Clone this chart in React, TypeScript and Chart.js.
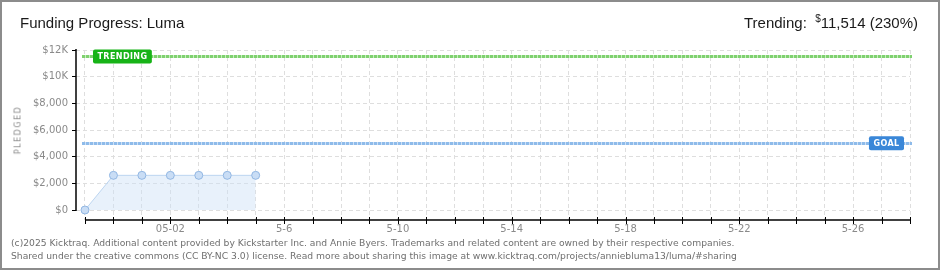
import React, { useEffect, useRef } from "react";
import { Chart, registerables } from "chart.js";

Chart.register(...registerables);

// ---- data ----
const dates: string[] = [
  "04-29", "04-30", "05-01", "05-02", "05-03", "05-04", "05-05", "05-06",
  "05-07", "05-08", "05-09", "05-10", "05-11", "05-12", "05-13", "05-14",
  "05-15", "05-16", "05-17", "05-18", "05-19", "05-20", "05-21", "05-22",
  "05-23", "05-24", "05-25", "05-26", "05-27", "05-28",
];
const xTickLabels: string[] = [
  "", "", "", "05-02", "", "", "", "5-6",
  "", "", "", "5-10", "", "", "", "5-14",
  "", "", "", "5-18", "", "", "", "5-22",
  "", "", "", "5-26", "", "",
];
const pledged: number[] = [0, 2600, 2600, 2600, 2600, 2600, 2600];
const yTickValues: number[] = [0, 1000, 2000, 3000, 4000, 5000, 6000, 7000, 8000, 9000, 10000, 11000, 12000];
const yTickLabels: Record<number, string> = {
  0: "$0", 2000: "$2,000", 4000: "$4,000", 6000: "$6,000", 8000: "$8,000", 10000: "$10K", 12000: "$12K",
};
const trendingValue = 11514;
const goalValue = 5000;
const trendingLabel = "TRENDING";
const goalLabel = "GOAL";

const FONT = "'DejaVu Sans', sans-serif";

const overlayPlugin = {
  id: "kicktraqOverlay",
  beforeDatasetsDraw(chart: any) {
    const { ctx, chartArea, scales } = chart;
    const x = scales.x;
    const y = scales.y;
    ctx.save();
    ctx.strokeStyle = "#000";
    ctx.lineWidth = 1.5;
    ctx.beginPath();
    ctx.moveTo(chartArea.left, y.getPixelForValue(12000) - 1);
    ctx.lineTo(chartArea.left, y.getPixelForValue(0) + 1);
    ctx.stroke();
    const axY = chartArea.bottom;
    ctx.beginPath();
    ctx.moveTo(x.getPixelForValue(0), axY);
    ctx.lineTo(x.getPixelForValue(dates.length - 1), axY);
    ctx.stroke();
    ctx.lineWidth = 1;
    for (let i = 0; i < dates.length; i++) {
      const px = Math.round(x.getPixelForValue(i)) + 0.5;
      ctx.beginPath();
      ctx.moveTo(px, axY - 3);
      ctx.lineTo(px, axY + 4);
      ctx.stroke();
    }
    const drawRef = (val: number, light: string, dark: string) => {
      const py = Math.round(y.getPixelForValue(val)) + 0.5;
      const x0 = x.getPixelForValue(0) - 3;
      const x1 = chartArea.right + 2;
      ctx.lineWidth = 3;
      ctx.setLineDash([]);
      ctx.strokeStyle = light;
      ctx.beginPath();
      ctx.moveTo(x0, py);
      ctx.lineTo(x1, py);
      ctx.stroke();
      ctx.setLineDash([3, 1]);
      ctx.strokeStyle = dark;
      ctx.beginPath();
      ctx.moveTo(x0, py);
      ctx.lineTo(x1, py);
      ctx.stroke();
      ctx.setLineDash([]);
    };
    drawRef(trendingValue, "#c8ecc1", "#7fd16f");
    drawRef(goalValue, "#cde0f6", "#8ebbea");
    ctx.restore();
  },
  afterDatasetsDraw(chart: any) {
    const { ctx, chartArea, scales } = chart;
    const y = scales.y;
    ctx.save();
    const badge = (text: string, val: number, color: string, left: number | null, right: number | null) => {
      ctx.font = `bold 8px ${FONT}`;
      (ctx as any).letterSpacing = "0.4px";
      const w = ctx.measureText(text).width + 9;
      const h = 14;
      const py = y.getPixelForValue(val);
      const lx = left !== null ? left : (right as number) - w;
      ctx.fillStyle = color;
      ctx.beginPath();
      (ctx as any).roundRect(lx, py - h / 2, w, h, 2);
      ctx.fill();
      ctx.fillStyle = "#fff";
      ctx.textBaseline = "middle";
      ctx.textAlign = "left";
      ctx.fillText(text, lx + 4.5, py + 0.5);
      (ctx as any).letterSpacing = "0px";
    };
    badge(trendingLabel, trendingValue, "#17b317", chartArea.left + 17, null);
    badge(goalLabel, goalValue, "#3a87d8", null, chartArea.right - 6);
    ctx.restore();
  },
};

function App() {
  const ref = useRef<HTMLCanvasElement | null>(null);

  useEffect(() => {
    document.body.style.margin = "0";
    if (!ref.current) return;
    const chart = new Chart(ref.current, {
      type: "line",
      data: {
        datasets: [
          {
            data: pledged.map((v, i) => ({ x: i, y: v })),
            borderColor: "#bcd5f0",
            borderWidth: 1,
            backgroundColor: "rgba(205,224,246,0.45)",
            fill: "origin",
            tension: 0,
            pointRadius: 4,
            pointBackgroundColor: "#c9ddf5",
            pointBorderColor: "#92b7e3",
            pointBorderWidth: 1,
          },
        ],
      },
      options: {
        animation: false,
        responsive: false,
        maintainAspectRatio: false,
        layout: { padding: { left: 0, top: 50, right: 30, bottom: 0 } },
        plugins: { legend: { display: false }, tooltip: { enabled: false } },
        scales: {
          x: {
            type: "linear",
            min: -0.316,
            max: dates.length - 1,
            afterBuildTicks: (s: any) => {
              s.ticks = dates.map((_, i) => ({ value: i }));
            },
            afterFit: (s: any) => {
              s.height = 50;
            },
            border: { display: false, dash: [4, 3] },
            grid: {
              color: "#dedede",
              lineWidth: 1,
              drawTicks: false,
              tickLength: 0,
            },
            ticks: {
              autoSkip: false,
              maxRotation: 0,
              padding: 3,
              color: "#8a8a8a",
              font: { family: FONT, size: 10 },
              callback: (v: any) => xTickLabels[Math.round(v)] ?? "",
            },
          },
          y: {
            type: "linear",
            min: -750,
            max: 12000,
            afterBuildTicks: (s: any) => {
              s.ticks = yTickValues.map((v) => ({ value: v }));
            },
            afterFit: (s: any) => {
              s.width = 76;
            },
            border: { display: false, dash: [4, 3] },
            grid: {
              color: (c: any) => (c.tick && c.tick.value % 2000 === 0 ? "#dedede" : "rgba(0,0,0,0)"),
              tickColor: (c: any) => (c.tick && c.tick.value % 2000 === 0 ? "#000" : "#e00000"),
              tickLength: 4,
              drawTicks: true,
              tickBorderDash: [],
            },
            ticks: {
              padding: 4,
              color: "#8a8a8a",
              font: { family: FONT, size: 10 },
              callback: (v: any) => yTickLabels[v as number] ?? "",
            },
          },
        },
      } as any,
      plugins: [overlayPlugin],
    });
    return () => chart.destroy();
  }, []);

  return (
    <div
      style={{
        position: "relative",
        width: 940,
        height: 270,
        boxSizing: "border-box",
        border: "2px solid #8c8c8c",
        background: "#fff",
        overflow: "hidden",
      }}
    >
      <canvas
        ref={ref}
        width={940}
        height={270}
        style={{ position: "absolute", left: -2, top: -2, width: 940, height: 270 }}
      />
      <div
        style={{
          position: "absolute",
          left: 18,
          top: 12,
          font: "15px 'Liberation Sans', sans-serif",
          color: "#1a1a1a",
          whiteSpace: "nowrap",
        }}
      >
        Funding Progress: Luma
      </div>
      <div
        style={{
          position: "absolute",
          right: 20,
          top: 11,
          font: "15px 'Liberation Sans', sans-serif",
          color: "#1a1a1a",
          whiteSpace: "nowrap",
        }}
      >
        Trending:&nbsp; <sup style={{ fontSize: 10 }}>$</sup>11,514 (230%)
      </div>
      <div
        style={{
          position: "absolute",
          left: 16,
          top: 128,
          transform: "translate(-50%, -50%) rotate(-90deg)",
          font: `8px ${FONT}`,
          letterSpacing: "1.5px",
          color: "#8a8a8a",
          whiteSpace: "nowrap",
        }}
      >
        PLEDGED
      </div>
      <div
        style={{
          position: "absolute",
          left: 9,
          top: 235,
          font: `9.2px ${FONT}`,
          lineHeight: "12.5px",
          color: "#6f6f6f",
          whiteSpace: "nowrap",
        }}
      >
        (c)2025 Kicktraq. Additional content provided by Kickstarter Inc. and Annie Byers. Trademarks and related content are owned by their respective companies.
        <br />
        Shared under the creative commons (CC BY-NC 3.0) license. Read more about sharing this image at www.kicktraq.com/projects/anniebluma13/luma/#sharing
      </div>
    </div>
  );
}

export default App;
